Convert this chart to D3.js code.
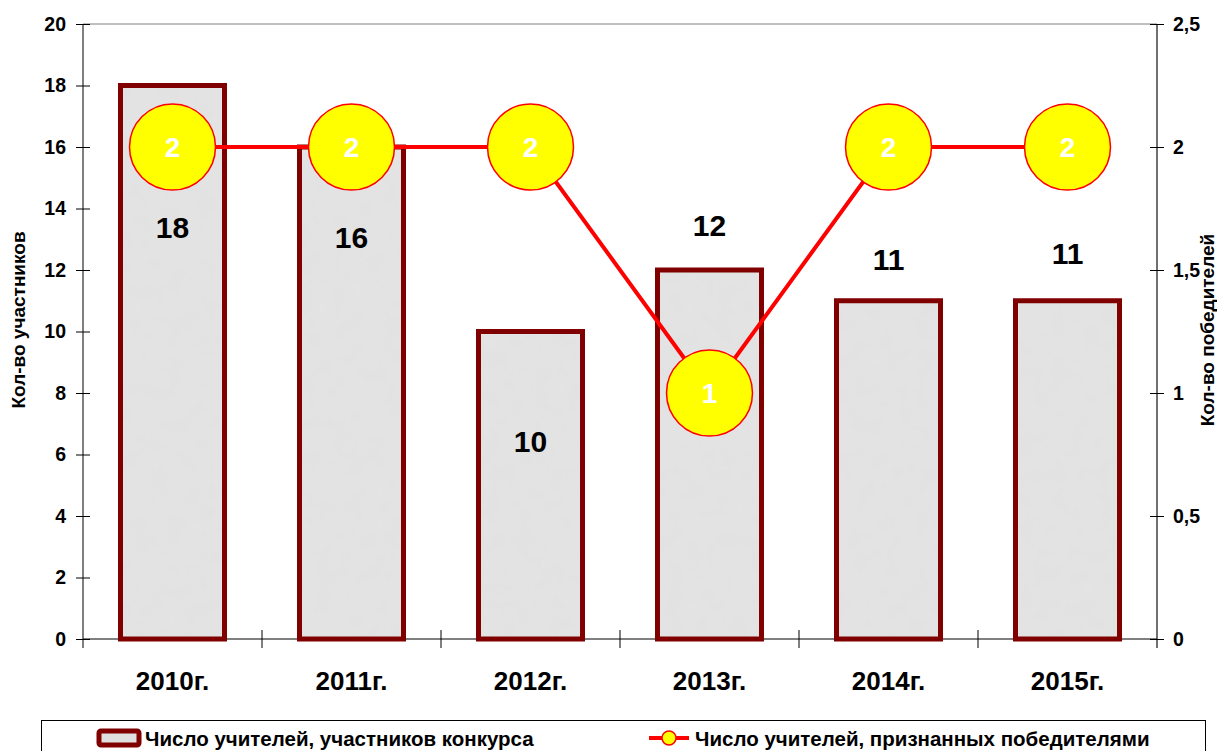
<!DOCTYPE html>
<html>
<head>
<meta charset="utf-8">
<script src="https://cdn.jsdelivr.net/npm/d3@7"></script>
<style>
  body { margin: 0; background: #fff; }
  text { font-family: "Liberation Sans", Arial, sans-serif; font-weight: bold; }
</style>
</head>
<body>
<div id="chart"></div>
<script>
// data
const years = ["2010г.", "2011г.", "2012г.", "2013г.", "2014г.", "2015г."];
const participants = [18, 16, 10, 12, 11, 11];
const winners = [2, 2, 2, 1, 2, 2];
const leftTicks = [0, 2, 4, 6, 8, 10, 12, 14, 16, 18, 20];
const rightTicks = [0, 0.5, 1, 1.5, 2, 2.5];
const seriesNames = ["Число учителей, участников конкурса", "Число учителей, признанных победителями"];

// label nudges (pixels) so bar labels dodge the circles, like the original
const labelShift = [142, 90, 110, -45, -42, -48];

const width = 1217, height = 751;
const plot = { left: 83, right: 1157, top: 24, bottom: 639 };

let svg = d3.select("#chart")
    .append("svg")
    .attr("width", width)
    .attr("height", height);

// grainy grey fill for the bars
let defs = svg.append("defs");
let filt = defs.append("filter").attr("id", "grain")
    .attr("x", 0).attr("y", 0).attr("width", 1).attr("height", 1);
filt.append("feTurbulence")
    .attr("type", "fractalNoise")
    .attr("baseFrequency", 0.06)
    .attr("numOctaves", 3)
    .attr("seed", 4)
    .attr("result", "noise");
filt.append("feColorMatrix")
    .attr("in", "noise")
    .attr("type", "matrix")
    .attr("values", "0 0 0 0 0.78  0 0 0 0 0.78  0 0 0 0 0.78  1.1 0 0 0 -0.35")
    .attr("result", "spots");
filt.append("feFlood").attr("flood-color", "#e2e2e2").attr("result", "base");
filt.append("feComposite").attr("in", "spots").attr("in2", "base").attr("operator", "over").attr("result", "mix");
filt.append("feComposite").attr("in", "mix").attr("in2", "SourceGraphic").attr("operator", "in");

let x = d3.scaleBand()
    .domain(years)
    .range([plot.left, plot.right]);

let yLeft = d3.scaleLinear()
    .domain([0, 20])
    .range([plot.bottom, plot.top]);

let yRight = d3.scaleLinear()
    .domain([0, 2.5])
    .range([plot.bottom, plot.top]);

// top border of the plot area
svg.append("line")
    .attr("x1", plot.left).attr("x2", plot.right)
    .attr("y1", plot.top).attr("y2", plot.top)
    .attr("stroke", "#808080").attr("stroke-width", 1);

// left axis
let leftAxis = svg.append("g")
    .attr("transform", `translate(${plot.left},0)`)
    .call(d3.axisLeft(yLeft).tickValues(leftTicks).tickSize(7).tickPadding(9).tickFormat(d3.format("d")));
leftAxis.select(".domain").attr("d", `M0,${plot.top}V${plot.bottom + 9}`).attr("stroke", "#000");
leftAxis.selectAll(".tick line").attr("x2", 7).attr("x1", -7).attr("stroke", "#000");
leftAxis.selectAll(".tick text").attr("font-size", 19.5).attr("fill", "#000").attr("x", -17);

// right axis
let rightAxis = svg.append("g")
    .attr("transform", `translate(${plot.right},0)`)
    .call(d3.axisRight(yRight).tickValues(rightTicks).tickSize(7).tickPadding(9)
        .tickFormat(d => String(d).replace(".", ",")));
rightAxis.select(".domain").attr("d", `M0,${plot.top}V${plot.bottom + 9}`).attr("stroke", "#404040").attr("stroke-width", 1.5);
rightAxis.selectAll(".tick line").attr("x1", -7).attr("x2", 7).attr("stroke", "#000");
rightAxis.selectAll(".tick text").attr("font-size", 19.5).attr("fill", "#000").attr("x", 16);

// bottom axis
let catTicks = years.map(d => x(d)).concat([plot.right]);
svg.append("line")
    .attr("x1", plot.left).attr("x2", plot.right)
    .attr("y1", plot.bottom).attr("y2", plot.bottom)
    .attr("stroke", "#000");
svg.append("g").selectAll("line").data(catTicks.slice(1, -1)).enter()
    .append("line")
    .attr("x1", d => d).attr("x2", d => d)
    .attr("y1", plot.bottom - 9).attr("y2", plot.bottom + 9)
    .attr("stroke", "#000");
svg.append("g").selectAll("text").data(years).enter()
    .append("text")
    .attr("x", d => x(d) + x.bandwidth() / 2)
    .attr("y", 690)
    .attr("text-anchor", "middle")
    .attr("font-size", 26)
    .text(d => d);

// bars
const barW = 104;
svg.append("g").selectAll("rect").data(participants).enter()
    .append("rect")
    .attr("x", (d, i) => x(years[i]) + x.bandwidth() / 2 - barW / 2)
    .attr("y", d => yLeft(d))
    .attr("width", barW)
    .attr("height", d => yLeft(0) - yLeft(d))
    .attr("fill", "#e0e0e0")
    .attr("filter", "url(#grain)");
svg.append("g").selectAll("rect").data(participants).enter()
    .append("rect")
    .attr("x", (d, i) => x(years[i]) + x.bandwidth() / 2 - barW / 2)
    .attr("y", d => yLeft(d))
    .attr("width", barW)
    .attr("height", d => yLeft(0) - yLeft(d))
    .attr("fill", "none")
    .attr("stroke", "#800000")
    .attr("stroke-width", 5);

// bar value labels
svg.append("g").selectAll("text").data(participants).enter()
    .append("text")
    .attr("x", (d, i) => x(years[i]) + x.bandwidth() / 2)
    .attr("y", (d, i) => yLeft(d) + labelShift[i])
    .attr("dy", "0.36em")
    .attr("text-anchor", "middle")
    .attr("font-size", 30)
    .attr("fill", "#000")
    .text(d => d);

// winners line
let line = d3.line()
    .x((d, i) => x(years[i]) + x.bandwidth() / 2)
    .y(d => yRight(d));
svg.append("path")
    .datum(winners)
    .attr("d", line)
    .attr("fill", "none")
    .attr("stroke", "#ff0000")
    .attr("stroke-width", 4);

let dots = svg.append("g").selectAll("g").data(winners).enter()
    .append("g")
    .attr("transform", (d, i) => `translate(${x(years[i]) + x.bandwidth() / 2},${yRight(d)})`);
dots.append("circle")
    .attr("r", 43)
    .attr("fill", "#ffff00")
    .attr("stroke", "#ff0000")
    .attr("stroke-width", 1.5);
dots.append("text")
    .attr("dy", "0.36em")
    .attr("text-anchor", "middle")
    .attr("font-size", 28)
    .attr("fill", "#fff")
    .text(d => d);

// axis titles
svg.append("text")
    .attr("transform", `translate(25,320) rotate(-90)`)
    .attr("text-anchor", "middle")
    .attr("font-size", 19)
    .text("Кол-во участников");
svg.append("text")
    .attr("transform", `translate(1214,330) rotate(-90)`)
    .attr("text-anchor", "middle")
    .attr("font-size", 19)
    .text("Кол-во победителей");

// legend
svg.append("rect")
    .attr("x", 41.5).attr("y", 720.5)
    .attr("width", 1164).attr("height", 40)
    .attr("fill", "#fff")
    .attr("stroke", "#000").attr("stroke-width", 1);

svg.append("rect")
    .attr("x", 99).attr("y", 731)
    .attr("width", 40).attr("height", 14)
    .attr("fill", "#e0e0e0")
    .attr("stroke", "#800000").attr("stroke-width", 5)
    .attr("rx", 2);
svg.append("text")
    .attr("x", 145).attr("y", 746)
    .attr("font-size", 20.5)
    .text(seriesNames[0]);

svg.append("line")
    .attr("x1", 649).attr("x2", 689)
    .attr("y1", 738).attr("y2", 738)
    .attr("stroke", "#ff0000").attr("stroke-width", 4);
svg.append("circle")
    .attr("cx", 669).attr("cy", 738).attr("r", 7)
    .attr("fill", "#ffff00").attr("stroke", "#ff0000").attr("stroke-width", 1.5);
svg.append("text")
    .attr("x", 695).attr("y", 746)
    .attr("font-size", 20.5)
    .text(seriesNames[1]);
</script>
</body>
</html>
